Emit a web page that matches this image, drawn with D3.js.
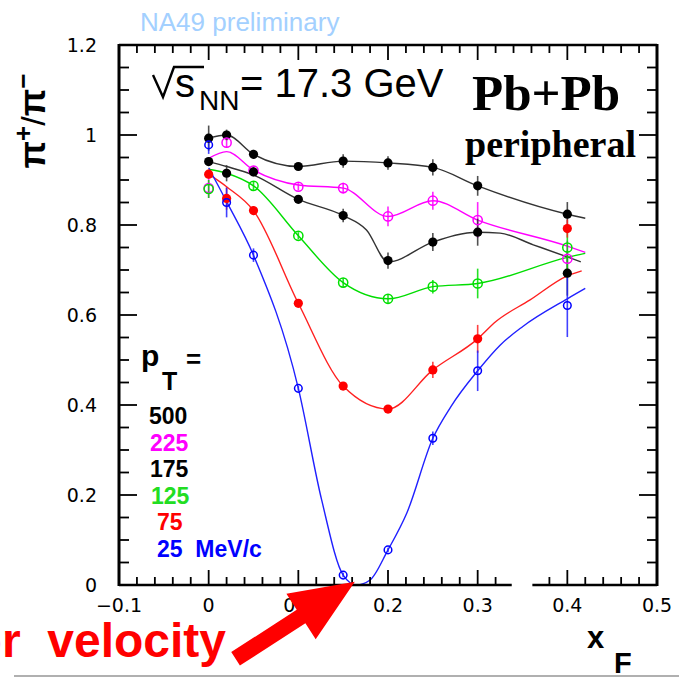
<!DOCTYPE html>
<html><head><meta charset="utf-8">
<script src="https://cdn.jsdelivr.net/npm/d3@7"></script>
<style>body{margin:0;background:#fff;} svg{display:block;}</style>
</head><body>
<svg id="chart" width="679" height="678"></svg>
<script>
// ---------- data ----------
const xPts = [0, 0.02, 0.05, 0.1, 0.15, 0.2, 0.25, 0.3, 0.4];

const val500 = [0.993, 1.000, 0.957, 0.930, 0.942, 0.938, 0.928, 0.887, 0.824];
const err500 = [0.028, 0.012, 0.010, 0.008, 0.015, 0.015, 0.018, 0.022, 0.027];
const val225 = [0.882, 0.983, 0.921, 0.885, 0.882, 0.819, 0.854, 0.811, 0.725];
const err225 = [0.022, 0.010, 0.010, 0.008, 0.012, 0.022, 0.020, 0.040, 0.040];
const val175 = [0.941, 0.915, 0.918, 0.857, 0.821, 0.721, 0.762, 0.784, 0.693];
const err175 = [0.010, 0.018, 0.010, 0.008, 0.015, 0.018, 0.020, 0.030, 0.050];
const val125 = [0.880, null, 0.887, 0.776, 0.672, 0.636, 0.663, 0.670, 0.750];
const err125 = [0.020, 0, 0.010, 0.008, 0.010, 0.010, 0.015, 0.033, 0.050];
const val75  = [0.913, 0.859, 0.832, 0.626, 0.442, 0.391, 0.478, 0.547, 0.792];
const err75  = [0.010, 0.025, 0.010, 0.008, 0.008, 0.008, 0.018, 0.031, 0.020];
const val25  = [0.978, 0.850, 0.733, 0.437, 0.022, 0.078, 0.326, 0.476, 0.621];
const err25  = [0.020, 0.033, 0.015, 0.005, 0.005, 0.005, 0.015, 0.045, 0.070];

// smooth fit curves
const fitX500 = [0, 0.02, 0.05, 0.1, 0.15, 0.2, 0.25, 0.3, 0.4, 0.42];
const fitY500 = [0.993, 1.000, 0.957, 0.930, 0.942, 0.938, 0.928, 0.887, 0.824, 0.815];
const fitX225 = [0, 0.02, 0.05, 0.1, 0.15, 0.2, 0.25, 0.3, 0.4, 0.42];
const fitY225 = [0.948, 0.963, 0.922, 0.889, 0.882, 0.819, 0.854, 0.811, 0.753, 0.739];
const fitX175 = [0, 0.02, 0.05, 0.1, 0.15, 0.176, 0.2, 0.25, 0.3, 0.325, 0.362, 0.4, 0.415];
const fitY175 = [0.941, 0.930, 0.911, 0.857, 0.821, 0.789, 0.718, 0.762, 0.784, 0.782, 0.756, 0.729, 0.718];
const fitX125 = [0, 0.02, 0.05, 0.1, 0.15, 0.2, 0.25, 0.3, 0.4, 0.42];
const fitY125 = [0.924, 0.915, 0.887, 0.776, 0.672, 0.636, 0.663, 0.670, 0.728, 0.737];
const fitX75  = [0, 0.02, 0.05, 0.1, 0.15, 0.2, 0.25, 0.3, 0.32, 0.358, 0.4, 0.416];
const fitY75  = [0.913, 0.885, 0.832, 0.626, 0.442, 0.391, 0.478, 0.547, 0.585, 0.633, 0.687, 0.698];
const fitX25  = [0, 0.02, 0.05, 0.1, 0.126, 0.15, 0.165, 0.18, 0.2, 0.221, 0.25, 0.27, 0.3, 0.325, 0.35, 0.4, 0.42];
const fitY25  = [0.927, 0.852, 0.733, 0.437, 0.189, 0.022, 0.0, 0.011, 0.078, 0.16, 0.326, 0.396, 0.476, 0.533, 0.574, 0.636, 0.659];

const seriesLabels = ["500", "225", "175", "125", "75", "25"];
const seriesColors = ["#000000", "#ff00ff", "#000000", "#00e000", "#ff0000", "#0000ff"];
const lineColors   = ["#333333", "#ff00ff", "#333333", "#00dd00", "#ff2020", "#2020ff"];
const markerFilled = [true, false, true, false, true, false];

const xTickMajor = [-0.1, 0, 0.1, 0.2, 0.3, 0.4, 0.5];
const xTickLabels = ["\u22120.1", "0", "0.1", "0.2", "0.3", "0.4", "0.5"];
const yTickMajor = [0, 0.2, 0.4, 0.6, 0.8, 1.0, 1.2];
const yTickLabels = ["0", "0.2", "0.4", "0.6", "0.8", "1", "1.2"];

const series = [
  {v: val500, e: err500, fx: fitX500, fy: fitY500},
  {v: val225, e: err225, fx: fitX225, fy: fitY225},
  {v: val175, e: err175, fx: fitX175, fy: fitY175},
  {v: val125, e: err125, fx: fitX125, fy: fitY125},
  {v: val75,  e: err75,  fx: fitX75,  fy: fitY75},
  {v: val25,  e: err25,  fx: fitX25,  fy: fitY25}
];

// ---------- layout ----------
const svg = d3.select("#chart");
const L = 119, R = 657, T = 45, B = 585;
const x = d3.scaleLinear().domain([-0.1, 0.5]).range([L, R]);
const y = d3.scaleLinear().domain([0, 1.2]).range([B, T]);

// title
svg.append("text").attr("x", 140).attr("y", 31)
  .attr("font-family", "Liberation Sans, Arial, sans-serif").attr("font-size", 26)
  .attr("fill", "#a3d0ff").text("NA49 preliminary");

// curves
const line = d3.line().curve(d3.curveMonotoneX).x(d => x(d[0])).y(d => y(d[1]));
const gCurves = svg.append("g");
series.forEach((s, i) => {
  const pts = s.fx.map((xx, k) => [xx, s.fy[k]]);
  gCurves.append("path").attr("d", line(pts)).attr("fill", "none")
    .attr("stroke", lineColors[i]).attr("stroke-width", 1.4);
});

// error bars and markers
const gPts = svg.append("g");
series.forEach((s, i) => {
  xPts.forEach((xx, k) => {
    const v = s.v[k];
    if (v === null) return;
    gPts.append("line").attr("x1", x(xx)).attr("x2", x(xx))
      .attr("y1", y(v - s.e[k])).attr("y2", y(v + s.e[k]))
      .attr("stroke", lineColors[i]).attr("stroke-width", 1.6).attr("opacity", 0.85);
  });
});
series.forEach((s, i) => {
  xPts.forEach((xx, k) => {
    const v = s.v[k];
    if (v === null) return;
    const c = gPts.append("circle").attr("cx", x(xx)).attr("cy", y(v));
    if (markerFilled[i]) {
      c.attr("r", 4.6).attr("fill", seriesColors[i]);
    } else {
      c.attr("r", i === 5 ? 3.8 : 4.6).attr("fill", "none")
        .attr("stroke", seriesColors[i]).attr("stroke-width", 1.5);
    }
  });
});

// ---------- frame & ticks ----------
const gAx = svg.append("g").attr("stroke", "#000");
const gapLo = 0.338, gapHi = 0.361;
gAx.append("line").attr("x1", L).attr("x2", R).attr("y1", T).attr("y2", T).attr("stroke-width", 2.5);
gAx.append("line").attr("x1", L).attr("x2", L).attr("y1", T - 1).attr("y2", B + 1).attr("stroke-width", 3);
gAx.append("line").attr("x1", R).attr("x2", R).attr("y1", T - 1).attr("y2", B + 1).attr("stroke-width", 3);
gAx.append("line").attr("x1", L).attr("x2", x(gapLo)).attr("y1", B).attr("y2", B).attr("stroke-width", 2.5);
gAx.append("line").attr("x1", x(gapHi)).attr("x2", R).attr("y1", B).attr("y2", B).attr("stroke-width", 2.5);

const xMinor = d3.range(0, 31).map(k => -0.1 + k * 0.02);
xMinor.forEach((t, k) => {
  const major = (k % 5 === 0);
  const len = major ? 15 : 8;
  const px = x(t);
  if (t > gapLo - 0.001 && t < gapHi + 0.001) { /* gap */ } else {
    gAx.append("line").attr("x1", px).attr("x2", px).attr("y1", B).attr("y2", B - len).attr("stroke-width", 1.8);
  }
  gAx.append("line").attr("x1", px).attr("x2", px).attr("y1", T).attr("y2", T + len).attr("stroke-width", 1.8);
});
const yMinor = d3.range(0, 25).map(k => k * 0.05);
yMinor.forEach((t, k) => {
  const major = (k % 4 === 0);
  const len = major ? 18 : 10;
  const py = y(t);
  gAx.append("line").attr("x1", L).attr("x2", L + len).attr("y1", py).attr("y2", py).attr("stroke-width", 1.8);
  gAx.append("line").attr("x1", R).attr("x2", R - len).attr("y1", py).attr("y2", py).attr("stroke-width", 1.8);
});

// tick labels
const tickFont = "DejaVu Sans, Verdana, sans-serif";
yTickMajor.forEach((t, k) => {
  svg.append("text").attr("x", 97).attr("y", y(t) + 7).attr("text-anchor", "end")
    .attr("font-family", tickFont).attr("font-size", 19).text(yTickLabels[k]);
});
xTickMajor.forEach((t, k) => {
  svg.append("text").attr("x", x(t)).attr("y", 612).attr("text-anchor", "middle")
    .attr("font-family", tickFont).attr("font-size", 19).text(xTickLabels[k]);
});

// y axis title
const yt = svg.append("text").attr("transform", "translate(45,121) rotate(-90)")
  .attr("text-anchor", "middle").attr("font-family", "Liberation Sans, Arial, sans-serif")
  .attr("font-weight", "bold").attr("font-size", 36);
yt.append("tspan").text("\u03c0");
yt.append("tspan").attr("font-size", 26).attr("dy", -13).text("+");
yt.append("tspan").attr("font-size", 34).attr("font-weight", "normal").attr("dy", 13).text("/");
yt.append("tspan").text("\u03c0");
yt.append("tspan").attr("font-size", 26).attr("dy", -13).text("\u2212");

// x axis title
svg.append("text").attr("x", 587).attr("y", 648).attr("font-family", "Liberation Sans, Arial, sans-serif")
  .attr("font-weight", "bold").attr("font-size", 31).text("x");
svg.append("text").attr("x", 614).attr("y", 673).attr("font-family", "Liberation Sans, Arial, sans-serif")
  .attr("font-weight", "bold").attr("font-size", 29).text("F");

// sqrt(s_NN) label
const sf = "Liberation Sans, Arial, sans-serif";
svg.append("path").attr("d", "M153,75 L163,97 L174,67 L204,67").attr("fill", "none")
  .attr("stroke", "#000").attr("stroke-width", 2.4);
svg.append("text").attr("x", 175).attr("y", 97).attr("font-family", sf).attr("font-size", 40).text("s");
svg.append("text").attr("x", 199).attr("y", 110).attr("font-family", sf).attr("font-size", 28).text("NN");
svg.append("text").attr("x", 240).attr("y", 97).attr("font-family", sf).attr("font-size", 40)
  .style("white-space", "pre").text("= 17.3 GeV");

// Pb+Pb peripheral
svg.append("text").attr("x", 472).attr("y", 110).attr("font-family", "Liberation Serif, Times New Roman, serif")
  .attr("font-weight", "bold").attr("font-size", 51).text("Pb+Pb");
svg.append("text").attr("x", 465).attr("y", 157).attr("font-family", "Liberation Serif, Times New Roman, serif")
  .attr("font-weight", "bold").attr("font-size", 38).text("peripheral");

// legend
svg.append("text").attr("x", 141).attr("y", 366).attr("font-family", sf).attr("font-weight", "bold")
  .attr("font-size", 30).text("p");
svg.append("text").attr("x", 162).attr("y", 390).attr("font-family", sf).attr("font-weight", "bold")
  .attr("font-size", 25).text("T");
svg.append("text").attr("x", 186).attr("y", 368).attr("font-family", sf).attr("font-weight", "bold")
  .attr("font-size", 26).text("=");
const legX = [149, 150, 150, 151, 157, 157];
seriesLabels.forEach((lab, i) => {
  const t = svg.append("text").attr("x", legX[i]).attr("y", 424 + i * 26.6)
    .attr("font-family", sf).attr("font-weight", "bold").attr("font-size", 23)
    .attr("fill", i === 3 ? "#22dd22" : seriesColors[i]).style("white-space", "pre")
    .text(i === 5 ? lab + "  MeV/c" : lab);
});

// arrow annotation (data coords)
const tip = [x(0.163), y(0.007)], tail = [x(0.030), y(-0.164)];
const dx = tip[0] - tail[0], dy = tip[1] - tail[1];
const len = Math.hypot(dx, dy), ux = dx / len, uy = dy / len, px = -uy, py = ux;
const hw = 8, hh = 27, headLen = 64;
const bx = tip[0] - ux * headLen, by = tip[1] - uy * headLen;
const arrowPts = [
  [tail[0] + px * hw, tail[1] + py * hw],
  [bx + px * hw, by + py * hw],
  [bx + px * hh, by + py * hh],
  tip,
  [bx - px * hh, by - py * hh],
  [bx - px * hw, by - py * hw],
  [tail[0] - px * hw, tail[1] - py * hw]
];
svg.append("polygon").attr("points", arrowPts.map(p => p.join(",")).join(" ")).attr("fill", "#ff0000");

svg.append("text").attr("x", 226).attr("y", 657).attr("text-anchor", "end")
  .attr("font-family", sf).attr("font-weight", "bold").attr("font-size", 48)
  .attr("fill", "#ff0000").style("white-space", "pre").text("or  velocity");

// bottom grey rule
svg.append("line").attr("x1", 14).attr("x2", 679).attr("y1", 676).attr("y2", 676)
  .attr("stroke", "#b0b0b0").attr("stroke-width", 2);
</script>
</body></html>
